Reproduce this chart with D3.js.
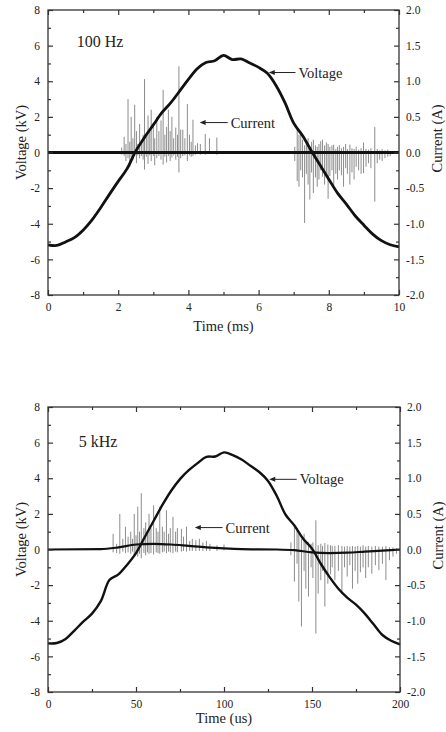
<!DOCTYPE html>
<html>
<head>
<meta charset="utf-8">
<script src="https://cdn.jsdelivr.net/npm/d3@7"></script>
<style>
  body { margin: 0; background: #fff; }
  svg { display: block; }
</style>
</head>
<body>
<script>
// ---- 100 Hz panel data (time in ms) ----
var time100Hz = [0, 0.25, 0.5, 0.75, 1, 1.25, 1.5, 1.75, 2, 2.25, 2.5, 2.75, 3, 3.25, 3.5, 3.75, 4, 4.25, 4.5, 4.75, 5,
    5.25, 5.5, 5.75, 6, 6.25, 6.5, 6.75, 7, 7.25, 7.5, 7.75, 8, 8.25, 8.5, 8.75, 9, 9.25, 9.5, 9.75, 10];
var voltage100Hz = [-5.18, -5.22, -5.02, -4.78, -4.36, -3.8, -3.1, -2.35, -1.62, -0.92, 0.08, 0.85, 1.55, 2.25, 2.8, 3.45, 4.1,
    4.7, 5.05, 5.15, 5.45, 5.22, 5.25, 5.02, 4.78, 4.45, 3.75, 2.8, 1.65, 0.95, 0.1, -0.7, -1.5, -2.28, -2.9, -3.55, -4.08,
    -4.58, -4.95, -5.18, -5.3];
// current spikes: [time, top (A), bottom (A)]
var spikes100Hz = [
    [2.10, 0.07, -0.03], [2.17, 0.22, -0.05], [2.22, 0.12, -0.12], [2.28, 0.75, -0.08], [2.33, 0.15, -0.20],
    [2.37, 0.50, -0.06], [2.42, 0.20, -0.10], [2.47, 0.67, -0.05], [2.52, 0.30, -0.15], [2.56, 0.12, -0.04],
    [2.61, 0.40, -0.08], [2.66, 0.18, -0.05], [2.71, 0.25, -0.10], [2.75, 1.03, -0.24], [2.80, 0.22, -0.06],
    [2.85, 0.52, -0.16], [2.90, 0.30, -0.04], [2.94, 0.60, -0.12], [3.00, 0.40, -0.05], [3.04, 0.20, -0.18],
    [3.10, 0.50, -0.08], [3.16, 0.30, -0.05], [3.22, 0.45, -0.10], [3.28, 0.88, -0.17], [3.33, 0.25, -0.06],
    [3.38, 0.36, -0.14], [3.43, 0.60, -0.05], [3.48, 0.30, -0.12], [3.53, 0.50, -0.07], [3.58, 0.20, -0.04],
    [3.64, 0.35, -0.10], [3.69, 0.25, -0.06], [3.73, 1.21, -0.28], [3.78, 0.32, -0.08], [3.84, 0.32, -0.05],
    [3.90, 0.20, -0.04], [3.97, 0.68, -0.12], [4.03, 0.25, -0.04], [4.08, 0.15, -0.06], [4.13, 0.46, -0.05],
    [4.20, 0.10, -0.03], [4.26, 0.13, -0.02], [4.34, 0.12, -0.03], [4.48, 0.26, -0.03], [4.60, 0.20, -0.02],
    [4.81, 0.21, -0.03],
    [7.03, 0.08, -0.12], [7.10, 0.36, -0.40], [7.15, 0.25, -0.48], [7.20, 0.30, -0.25], [7.25, 0.18, -0.35],
    [7.31, 0.10, -0.99], [7.36, 0.12, -0.30], [7.41, 0.20, -0.45], [7.46, 0.08, -0.66], [7.51, 0.15, -0.28],
    [7.56, 0.18, -0.57], [7.62, 0.10, -0.35], [7.67, 0.08, -0.48], [7.72, 0.12, -0.38], [7.77, 0.16, -0.25],
    [7.82, 0.18, -0.34], [7.88, 0.10, -0.45], [7.93, 0.14, -0.30], [7.98, 0.12, -0.65], [8.03, 0.08, -0.33],
    [8.09, 0.10, -0.25], [8.14, 0.11, -0.48], [8.20, 0.05, -0.30], [8.25, 0.08, -0.38], [8.30, 0.10, -0.25],
    [8.36, 0.06, -0.32], [8.42, 0.08, -0.48], [8.48, 0.12, -0.22], [8.53, 0.05, -0.30], [8.60, 0.11, -0.45],
    [8.66, 0.06, -0.28], [8.72, 0.05, -0.38], [8.78, 0.08, -0.20], [8.85, 0.04, -0.25], [8.92, 0.06, -0.30],
    [8.99, 0.14, -0.29], [9.06, 0.05, -0.20], [9.13, 0.04, -0.15], [9.20, 0.06, -0.22], [9.31, 0.36, -0.69],
    [9.38, 0.05, -0.15], [9.45, 0.03, -0.10], [9.52, 0.05, -0.12], [9.60, 0.03, -0.08], [9.68, 0.04, -0.06],
    [9.75, 0.02, -0.05]
];
var baseTime100Hz = [0, 10];
var baseCurrent100Hz = [0, 0];

// ---- 5 kHz panel data (time in us) ----
var time5kHz = [0, 5, 10, 15, 20, 25, 30, 35, 40, 45, 50, 55, 60, 65, 70, 75, 80, 85, 90, 95, 100,
    105, 110, 115, 120, 125, 130, 135, 140, 145, 150, 155, 160, 165, 170, 175, 180, 185, 190, 195, 200];
var voltage5kHz = [-5.27, -5.25, -5.02, -4.55, -4.05, -3.6, -2.9, -1.7, -1.4, -0.85, -0.2, 0.7, 1.6, 2.5, 3.3, 3.95,
    4.45, 4.85, 5.2, 5.22, 5.45, 5.3, 5.05, 4.7, 4.35, 3.85, 3.0, 1.95, 1.35, 0.6, 0.05, -0.8, -1.55, -2.2,
    -2.7, -3.1, -3.6, -4.2, -4.8, -5.12, -5.32];
var spikes5kHz = [
    [37, 0.22, -0.04], [39, 0.08, -0.05], [40.8, 0.50, -0.06], [42.5, 0.15, -0.03], [44, 0.32, -0.05],
    [45.5, 0.18, -0.04], [47, 0.25, -0.06], [48, 0.15, -0.03], [49, 0.50, -0.08], [50, 0.20, -0.05],
    [51, 0.60, -0.10], [52, 0.25, -0.06], [53, 0.79, -0.12], [54.5, 0.30, -0.05], [55.5, 0.38, -0.08],
    [56.5, 0.22, -0.04], [57.4, 0.50, -0.06], [58.5, 0.30, -0.05], [60, 0.62, -0.07], [61.5, 0.30, -0.04],
    [62.5, 0.25, -0.05], [63.5, 0.60, -0.06], [65, 0.32, -0.04], [66, 0.25, -0.03], [67.3, 0.55, -0.05],
    [68.5, 0.22, -0.03], [69.5, 0.30, -0.04], [71, 0.46, -0.05], [72.5, 0.25, -0.03], [73.5, 0.30, -0.04],
    [75.8, 0.29, -0.03], [77, 0.18, -0.02], [78.7, 0.32, -0.03], [80.5, 0.12, -0.02], [82, 0.15, -0.02],
    [84, 0.13, -0.02], [86, 0.15, -0.02], [88, 0.10, -0.02], [90, 0.12, -0.02], [92, 0.08, -0.02],
    [96, 0.06, -0.02], [100, 0.07, -0.01],
    [138, 0.10, -0.08], [140, 0.32, -0.45], [141.5, 0.30, -0.20], [142.5, 0.25, -0.73], [144, 0.15, -1.08],
    [145.5, 0.22, -0.30], [146.5, 0.12, -0.55], [148, 0.10, -0.66], [149.5, 0.08, -0.25], [150.5, 0.10, -0.40],
    [152.2, 0.41, -1.18], [153.5, 0.06, -0.62], [155, 0.08, -0.43], [156, 0.05, -0.30], [157.3, 0.09, -0.80],
    [159, 0.07, -0.48], [160.5, 0.06, -0.35], [161.5, 0.05, -0.25], [163, 0.05, -0.43], [165, 0.06, -0.30],
    [167, 0.05, -0.62], [168.5, 0.04, -0.25], [170, 0.05, -0.38], [171.5, 0.04, -0.22], [173, 0.05, -0.55],
    [174.5, 0.04, -0.30], [176, 0.05, -0.48], [177.5, 0.04, -0.32], [179, 0.06, -0.25], [180.5, 0.04, -0.40],
    [182, 0.05, -0.25], [184, 0.04, -0.34], [186, 0.05, -0.22], [188, 0.04, -0.29], [190, 0.04, -0.20],
    [192, 0.05, -0.43], [194, 0.03, -0.15], [196, 0.03, -0.10], [198, 0.02, -0.06]
];
var baseTime5kHz = [0, 30, 40, 50, 60, 70, 80, 90, 100, 110, 130, 140, 150, 160, 170, 180, 190, 200];
var baseCurrent5kHz = [0, 0.005, 0.03, 0.07, 0.08, 0.07, 0.05, 0.03, 0.015, 0.005, 0, -0.01, -0.04, -0.05, -0.045,
    -0.03, -0.015, 0];

var voltTicks = d3.range(-8, 9, 2),
    currTicks = d3.range(-2, 2.01, 0.5);

var serif = "'Liberation Serif', 'Times New Roman', 'DejaVu Serif', serif";

var width = 446,
    height = 732;

var svg = d3.select("body")
    .append("svg")
    .attr("width", width)
    .attr("height", height);

function drawPanel(o) {
    var left = 48, w = o.w, top = o.top, h = 285;
    var x = d3.scaleLinear().domain(o.xDomain).range([left, left + w]),
        yV = d3.scaleLinear().domain([-8, 8]).range([top + h, top]),
        yI = d3.scaleLinear().domain([-2, 2]).range([top + h, top]);

    var g = svg.append("g");

    // current spikes (grey)
    g.append("g")
        .attr("stroke", "#8c8c8c")
        .attr("stroke-width", 1)
        .selectAll("line")
        .data(o.spikes)
        .join("line")
        .attr("x1", function (d) { return x(d[0]); })
        .attr("x2", function (d) { return x(d[0]); })
        .attr("y1", function (d) { return yI(d[1]); })
        .attr("y2", function (d) { return yI(d[2]); });

    // current baseline
    g.append("path")
        .datum(d3.zip(o.baseTime, o.baseCurrent))
        .attr("fill", "none")
        .attr("stroke", "#111")
        .attr("stroke-width", o.baseWidth)
        .attr("d", d3.line()
            .x(function (d) { return x(d[0]); })
            .y(function (d) { return yI(d[1]); })
            .curve(d3.curveMonotoneX));

    // voltage
    g.append("path")
        .datum(d3.zip(o.time, o.voltage))
        .attr("fill", "none")
        .attr("stroke", "#111")
        .attr("stroke-width", o.voltWidth)
        .attr("stroke-linejoin", "round")
        .attr("d", d3.line()
            .x(function (d) { return x(d[0]); })
            .y(function (d) { return yV(d[1]); })
            .curve(d3.curveCatmullRom));

    // axes, ticks pointing inward
    var axes = g.append("g");
    axes.append("g")
        .attr("transform", "translate(" + left + ",0)")
        .call(d3.axisLeft(yV).tickValues(voltTicks).tickSize(-5).tickPadding(8)
            .tickFormat(function (d) { return String(d); }));
    axes.append("g")
        .attr("transform", "translate(" + left + ",0)")
        .call(d3.axisLeft(yV).tickValues(d3.range(-7, 8, 2)).tickSize(-3).tickFormat(""));
    axes.append("g")
        .attr("transform", "translate(" + (left + w) + ",0)")
        .call(d3.axisRight(yI).tickValues(currTicks).tickSize(-5).tickPadding(7)
            .tickFormat(function (d) { return d.toFixed(1); }));
    axes.append("g")
        .attr("transform", "translate(" + (left + w) + ",0)")
        .call(d3.axisRight(yI).tickValues(d3.range(-1.75, 2, 0.5)).tickSize(-3).tickFormat(""));
    axes.append("g")
        .attr("transform", "translate(0," + (top + h) + ")")
        .call(d3.axisBottom(x).tickValues(o.xTicks).tickSize(-5).tickPadding(8)
            .tickFormat(function (d) { return String(d); }));
    axes.append("g")
        .attr("transform", "translate(0," + (top + h) + ")")
        .call(d3.axisBottom(x).tickValues(o.xMinor).tickSize(-3).tickFormat(""));
    axes.append("g")
        .attr("transform", "translate(0," + top + ")")
        .call(d3.axisTop(x).tickValues(o.xTicks).tickSize(-5).tickFormat(""));
    axes.append("g")
        .attr("transform", "translate(0," + top + ")")
        .call(d3.axisTop(x).tickValues(o.xMinor).tickSize(-3).tickFormat(""));
    axes.selectAll(".domain").remove();
    axes.selectAll(".tick line").attr("stroke", "#333").attr("stroke-width", 1.2);
    axes.selectAll("text")
        .style("font-family", serif)
        .style("font-size", "11.5px")
        .attr("fill", "#222");

    g.append("rect")
        .attr("x", left).attr("y", top).attr("width", w).attr("height", h)
        .attr("fill", "none").attr("stroke", "#333").attr("stroke-width", 1.3);

    // axis titles
    g.append("text")
        .attr("transform", "translate(" + 26 + "," + (top + h / 2 - 10) + ") rotate(-90)")
        .attr("text-anchor", "middle")
        .text("Voltage (kV)");
    g.append("text")
        .attr("transform", "translate(" + (left + w + 43) + "," + (top + h / 2 - 14) + ") rotate(-90)")
        .attr("text-anchor", "middle")
        .text("Current (A)");
    g.append("text")
        .attr("x", left + w / 2).attr("y", top + h + o.xTitleGap)
        .attr("text-anchor", "middle")
        .text(o.xTitle);

    // frequency tag
    g.append("text")
        .attr("class", "tag")
        .attr("x", x(o.tag[0])).attr("y", yV(o.tag[1]))
        .text(o.tag[2]);

    // arrow annotations: [tipX, tipV, tailX, label]
    o.notes.forEach(function (n) {
        var ty = yV(n[1]), tx = x(n[0]), ex = x(n[2]);
        g.append("line")
            .attr("x1", tx + 4).attr("x2", ex).attr("y1", ty).attr("y2", ty)
            .attr("stroke", "#222").attr("stroke-width", 1);
        g.append("path")
            .attr("d", "M" + tx + "," + ty + "l6,-2.5l0,5z")
            .attr("fill", "#222");
        g.append("text")
            .attr("x", ex + 3).attr("y", ty + 5)
            .text(n[3]);
    });

    g.selectAll(":scope > text")
        .style("font-family", serif)
        .style("font-size", "14.5px")
        .attr("fill", "#222");
    g.selectAll("text.tag").style("font-size", "16px");
}

drawPanel({
    top: 10, w: 351,
    xDomain: [0, 10], xTicks: d3.range(0, 11, 2), xMinor: d3.range(1, 10, 2),
    xTitle: "Time (ms)", xTitleGap: 36,
    time: time100Hz, voltage: voltage100Hz, spikes: spikes100Hz,
    baseTime: baseTime100Hz, baseCurrent: baseCurrent100Hz,
    baseWidth: 3, voltWidth: 2.8,
    tag: [0.82, 5.9, "100 Hz"],
    notes: [[6.29, 4.49, 7.05, "Voltage"], [4.32, 1.68, 5.12, "Current"]]
});

drawPanel({
    top: 407, w: 352,
    xDomain: [0, 200], xTicks: d3.range(0, 201, 50), xMinor: d3.range(25, 200, 50),
    xTitle: "Time (us)", xTitleGap: 31,
    time: time5kHz, voltage: voltage5kHz, spikes: spikes5kHz,
    baseTime: baseTime5kHz, baseCurrent: baseCurrent5kHz,
    baseWidth: 2.2, voltWidth: 2.4,
    tag: [17.5, 5.75, "5 kHz"],
    notes: [[125.7, 3.94, 141.3, "Voltage"], [83.4, 1.23, 99.2, "Current"]]
});
</script>
</body>
</html>
